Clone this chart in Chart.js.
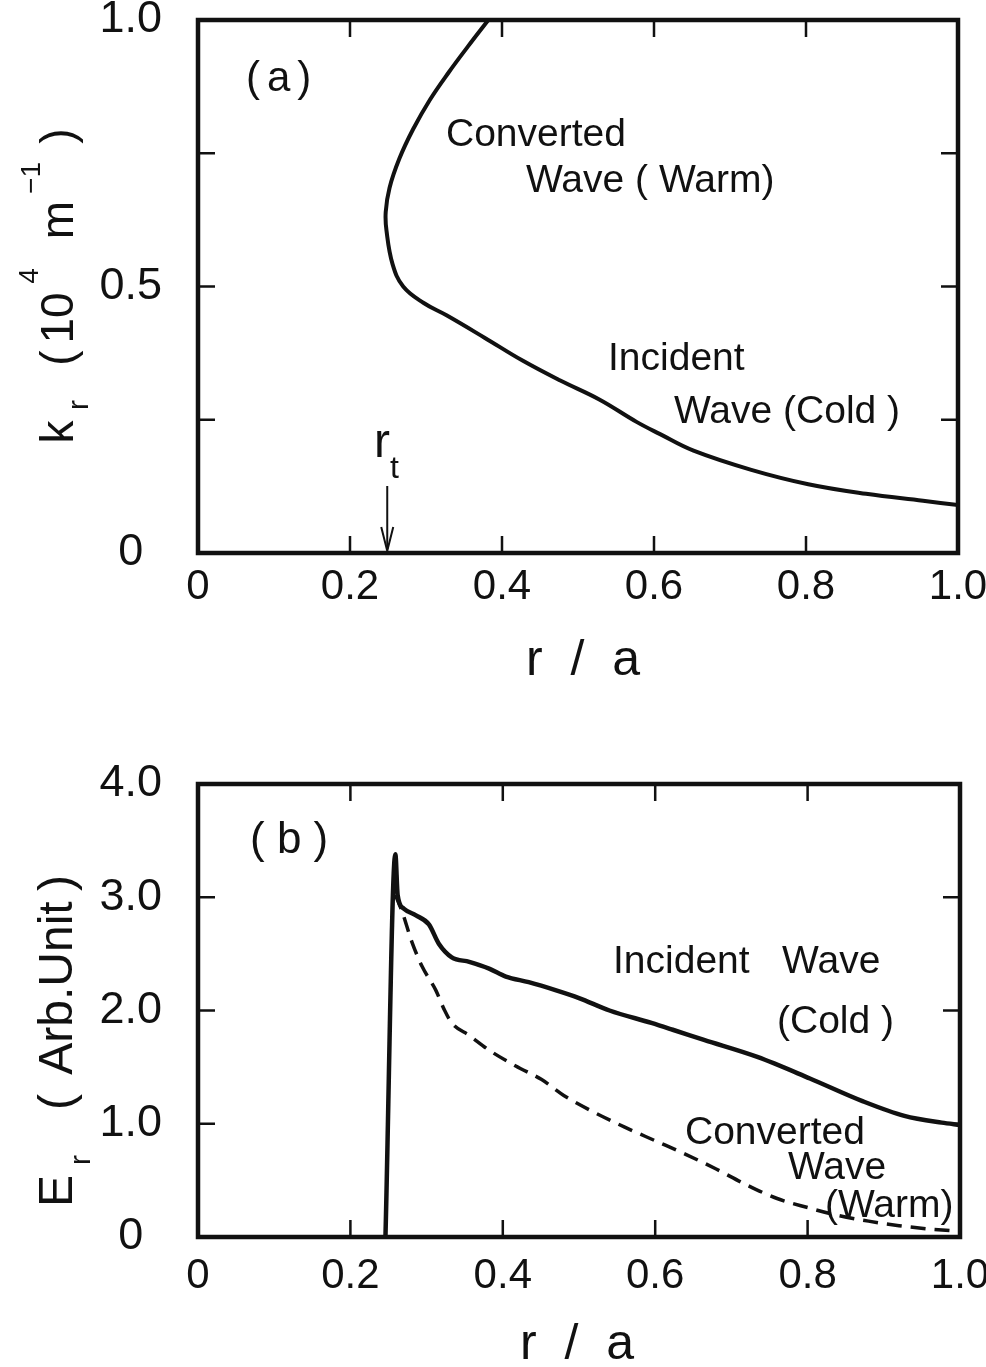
<!DOCTYPE html>
<html>
<head>
<meta charset="utf-8">
<script src="https://cdn.jsdelivr.net/npm/chart.js@4.4.0/dist/chart.umd.min.js"></script>
<style>
  html, body { margin: 0; padding: 0; background: #fff; overflow: hidden; }
  #wrap { position: relative; width: 986px; height: 1367px; overflow: hidden; }
  canvas { position: absolute; left: 0; }
</style>
</head>
<body>
<div id="wrap">
  <canvas id="chartA" width="1000" height="740" style="top:-50px"></canvas>
  <canvas id="chartB" width="1006" height="677" style="top:690px"></canvas>
</div>
<script>
// (a) k_r vs r/a, traced from the top edge, round the turning point, out to the wall
const rA  = [0.382, 0.355, 0.330, 0.305, 0.283, 0.265, 0.252, 0.247, 0.248, 0.256, 0.270, 0.297, 0.327,
             0.377, 0.427, 0.476, 0.528, 0.577, 0.608, 0.652, 0.728, 0.803, 0.879, 0.954, 1.0];
const krA = [1.000, 0.950, 0.902, 0.850, 0.795, 0.740, 0.685, 0.640, 0.605, 0.542, 0.500, 0.469, 0.446,
             0.404, 0.361, 0.324, 0.288, 0.246, 0.223, 0.192, 0.156, 0.129, 0.111, 0.098, 0.090];

// (b) E_r, incident (cold) wave
const rInc = [0.246, 0.259, 0.262, 0.270, 0.286, 0.303, 0.316, 0.333, 0.356, 0.382, 0.404, 0.434, 0.469, 0.500,
              0.540, 0.595, 0.623, 0.664, 0.734, 0.803, 0.872, 0.927, 0.976, 1.0];
const eInc = [0.00, 3.38, 3.02, 2.90, 2.84, 2.76, 2.59, 2.47, 2.43, 2.37, 2.30, 2.25, 2.18, 2.11,
              2.00, 1.89, 1.83, 1.74, 1.59, 1.40, 1.20, 1.07, 1.01, 0.99];

// (b) E_r, converted (warm) wave
const rConv = [0.259, 0.267, 0.281, 0.294, 0.312, 0.323, 0.333, 0.356, 0.382, 0.417, 0.451, 0.480, 0.520,
               0.560, 0.600, 0.640, 0.680, 0.720, 0.760, 0.800, 0.840, 0.880, 0.920, 0.960, 1.0];
const eConv = [3.02, 2.89, 2.60, 2.39, 2.18, 2.01, 1.89, 1.78, 1.65, 1.51, 1.39, 1.25, 1.10,
               0.97, 0.85, 0.73, 0.60, 0.46, 0.34, 0.26, 0.19, 0.14, 0.10, 0.07, 0.05];

const rTurn = 0.249;   // r_t

const xTickLabels = ['0', '0.2', '0.4', '0.6', '0.8', '1.0'];
const kTickLabels = ['0', '', '0.5', '', '1.0'];
const eTickLabels = ['0', '1.0', '2.0', '3.0', '4.0'];

const FAM = "'Liberation Sans', Arial, sans-serif";
const INK = '#111';
const SHIFT_A = 50;   // canvas A sits 50px above the page top

function pts(xs, ys) {
    return xs.map((v, i) => ({ x: v, y: ys[i] }));
}

// box frame with inward ticks on all four sides
const framePlugin = {
    id: 'frame',
    afterDatasetsDraw(chart) {
        const { ctx, chartArea: a, scales: { x, y } } = chart;
        const len = 17;
        ctx.save();
        ctx.strokeStyle = INK;
        ctx.lineCap = 'butt';
        ctx.lineWidth = 2.5;
        ctx.beginPath();
        x.ticks.forEach(t => {
            if (t.value < x.min + 1e-6 || t.value > x.max - 1e-6) return;
            const px = x.getPixelForValue(t.value);
            ctx.moveTo(px, a.bottom); ctx.lineTo(px, a.bottom - len);
            ctx.moveTo(px, a.top); ctx.lineTo(px, a.top + len);
        });
        y.ticks.forEach(t => {
            if (t.value < y.min + 1e-6 || t.value > y.max - 1e-6) return;
            const py = y.getPixelForValue(t.value);
            ctx.moveTo(a.left, py); ctx.lineTo(a.left + len, py);
            ctx.moveTo(a.right, py); ctx.lineTo(a.right - len, py);
        });
        ctx.stroke();
        ctx.lineWidth = 4.5;
        ctx.strokeRect(a.left, a.top, a.right - a.left, a.bottom - a.top);
        ctx.restore();
    }
};

function txt(ctx, s, size, x, y) {
    ctx.font = size + 'px ' + FAM;
    ctx.fillText(s, x, y);
}

// rotated piece of an axis title, centred on yc, baseline at xb
function rot(ctx, s, size, xb, yc) {
    ctx.save();
    ctx.translate(xb, yc);
    ctx.rotate(-Math.PI / 2);
    ctx.font = size + 'px ' + FAM;
    ctx.textAlign = 'center';
    ctx.fillText(s, 0, 0);
    ctx.restore();
}

const notesA = {
    id: 'notesA',
    afterDraw(chart) {
        const { ctx, scales: { x } } = chart;
        ctx.save();
        ctx.translate(0, SHIFT_A);
        ctx.fillStyle = INK;
        ctx.strokeStyle = INK;
        ctx.textBaseline = 'alphabetic';
        ctx.textAlign = 'left';
        ctx.letterSpacing = '7px';
        txt(ctx, '(a)', 42, 246, 91);
        ctx.letterSpacing = '0px';
        txt(ctx, 'Converted', 39, 446, 146);
        txt(ctx, 'Wave ( Warm)', 39, 526, 192);
        txt(ctx, 'Incident', 39, 608, 370);
        txt(ctx, 'Wave (Cold )', 39, 674, 423);
        // r_t marker
        txt(ctx, 'r', 48, 374, 457);
        txt(ctx, 't', 32, 390, 478);
        const px = x.getPixelForValue(rTurn);
        ctx.lineWidth = 2;
        ctx.beginPath();
        ctx.moveTo(px, 486); ctx.lineTo(px, 549);
        ctx.stroke();
        ctx.beginPath();
        ctx.moveTo(px - 6, 527); ctx.lineTo(px, 551); ctx.lineTo(px + 6, 527);
        ctx.stroke();
        // axis titles
        ctx.textAlign = 'center';
        txt(ctx, 'r  /  a', 50, 583, 675);
        rot(ctx, 'k', 46, 73, 432);
        rot(ctx, 'r', 30, 88, 405);
        rot(ctx, '(', 46, 73, 358);
        rot(ctx, '10', 46, 73, 318);
        rot(ctx, '4', 28, 38, 276);
        rot(ctx, 'm', 46, 73, 220);
        rot(ctx, '\u22121', 28, 40, 178);
        rot(ctx, ')', 46, 73, 136);
        ctx.restore();
    }
};

const notesB = {
    id: 'notesB',
    afterDraw(chart) {
        const { ctx } = chart;
        ctx.save();
        ctx.fillStyle = INK;
        ctx.strokeStyle = INK;
        ctx.textBaseline = 'alphabetic';
        ctx.textAlign = 'left';
        txt(ctx, '( b )', 44, 250, 163);
        txt(ctx, 'Incident   Wave', 39, 613, 283);
        txt(ctx, '(Cold )', 39, 777, 343);
        txt(ctx, 'Converted', 39, 685, 454);
        txt(ctx, 'Wave', 39, 788, 489);
        txt(ctx, '(Warm)', 39, 825, 527);
        ctx.textAlign = 'center';
        txt(ctx, 'r  /  a', 50, 577, 669);
        rot(ctx, 'E', 48, 72, 501);
        rot(ctx, 'r', 30, 90, 470);
        rot(ctx, '(', 48, 72, 412);
        rot(ctx, 'Arb.Unit', 48, 72, 298);
        rot(ctx, ')', 48, 72, 193);
        ctx.restore();
    }
};

function xScale(pad, h) {
    return {
        type: 'linear', min: 0, max: 1,
        grid: { display: false, drawTicks: false },
        border: { display: false },
        ticks: {
            stepSize: 0.2, padding: pad, color: INK,
            font: { family: FAM, size: 42 },
            maxRotation: 0, autoSkip: false,
            callback: (v, i) => xTickLabels[i]
        },
        afterFit: s => { s.height = h; }
    };
}

function yScale(max, step, labels) {
    return {
        type: 'linear', min: 0, max: max,
        grid: { display: false, drawTicks: false },
        border: { display: false },
        ticks: {
            stepSize: step, padding: 36, color: INK, crossAlign: 'center',
            font: { family: FAM, size: 45 },
            autoSkip: false,
            callback: (v, i) => labels[i]
        },
        afterFit: s => { s.width = 198; }
    };
}

var chartA = new Chart(document.getElementById('chartA'), {
    type: 'scatter',
    data: {
        datasets: [{
            data: pts(rA, krA),
            showLine: true,
            borderColor: INK,
            borderWidth: 4,
            pointRadius: 0,
            tension: 0.4
        }]
    },
    options: {
        responsive: false,
        animation: false,
        layout: { autoPadding: false, padding: { top: 20 + SHIFT_A, right: 42, bottom: 0, left: 0 } },
        plugins: { legend: { display: false }, tooltip: { enabled: false } },
        scales: { x: xScale(9, 137), y: yScale(1, 0.25, kTickLabels) }
    },
    plugins: [framePlugin, notesA]
});

var chartB = new Chart(document.getElementById('chartB'), {
    type: 'scatter',
    data: {
        datasets: [{
            label: 'Incident Wave (Cold)',
            data: pts(rInc, eInc),
            showLine: true,
            borderColor: INK,
            borderWidth: 4.5,
            pointRadius: 0,
            cubicInterpolationMode: 'monotone'
        }, {
            label: 'Converted Wave (Warm)',
            data: pts(rConv, eConv),
            showLine: true,
            borderColor: INK,
            borderWidth: 3.5,
            borderDash: [15, 9],
            pointRadius: 0,
            cubicInterpolationMode: 'monotone'
        }]
    },
    options: {
        responsive: false,
        animation: false,
        layout: { autoPadding: false, padding: { top: 94, right: 46, bottom: 0, left: 0 } },
        plugins: { legend: { display: false }, tooltip: { enabled: false } },
        scales: { x: xScale(14, 130), y: yScale(4, 1, eTickLabels) }
    },
    plugins: [framePlugin, notesB]
});
</script>
</body>
</html>
